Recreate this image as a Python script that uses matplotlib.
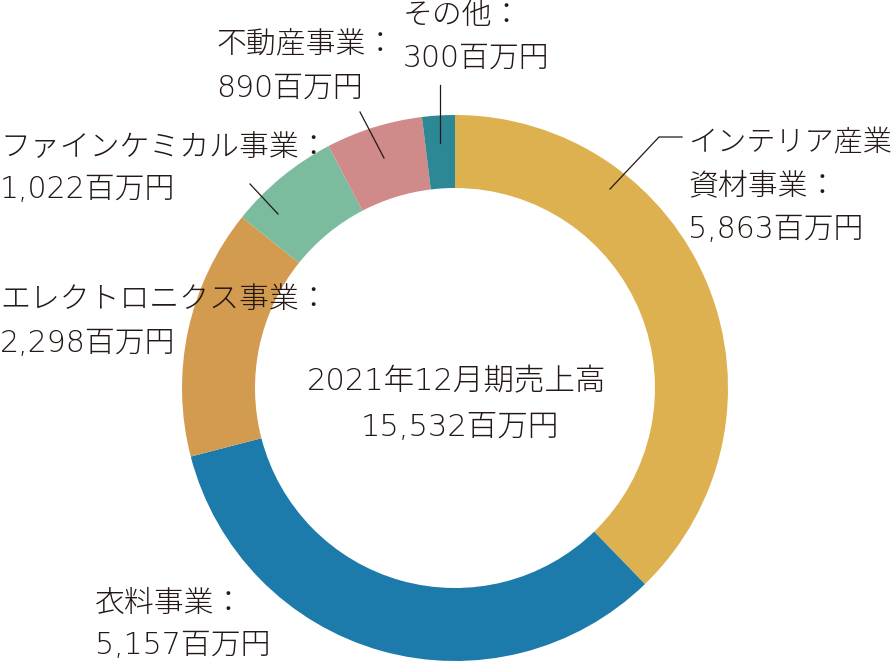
import matplotlib.pyplot as plt

plt.rcParams['font.family'] = ['DejaVu Sans', 'Noto Sans CJK JP']

# data (百万円)
segments = ['インテリア産業資材事業', '衣料事業', 'エレクトロニクス事業', 'ファインケミカル事業', '不動産事業', 'その他']
values = [5863, 5157, 2298, 1022, 890, 300]
colors = ['#DDB14F', '#1C7BAA', '#D39B4F', '#7BBB9E', '#D08A89', '#2C8895']
label_lines = [
    ['インテリア産業', '資材事業：', '5,863百万円'],
    ['衣料事業：', '5,157百万円'],
    ['エレクトロニクス事業：', '2,298百万円'],
    ['ファインケミカル事業：', '1,022百万円'],
    ['不動産事業：', '890百万円'],
    ['その他：', '300百万円'],
]
center_title = '2021年12月期売上高'
center_total = '15,532百万円'

W, H = 894, 662
fig = plt.figure(figsize=(W / 100, H / 100), dpi=100)
ax = fig.add_axes([0, 0, 1, 1])

cx, cy, R = 455, H - 388, 273
ax.pie(values, colors=colors, startangle=90, counterclock=False,
       radius=R, center=(cx, cy),
       wedgeprops=dict(width=73, linewidth=0))
ax.set_xlim(0, W)
ax.set_ylim(0, H)
ax.set_aspect('equal')
ax.axis('off')

txt = '#231815'
fs = 21.5
wt = 'light'

def put(x, y_top, lines, step=43):
    for i, s in enumerate(lines):
        # first line of the right label sits against the edge
        size = 21 if s == 'インテリア産業' else fs
        ax.text(x, H - (y_top + i * step), s, fontsize=size, color=txt,
                ha='left', va='center', fontweight=wt)

put(688, 143, label_lines[0])
put(95, 603, label_lines[1])
put(0, 300, label_lines[2])
put(0, 147, label_lines[3])
put(216, 45, label_lines[4])
put(403, 15, label_lines[5])

ax.text(457, H - 382, center_title, fontsize=22, color=txt, ha='center', va='center', fontweight=wt)
ax.text(460, H - 428, center_total, fontsize=22, color=txt, ha='center', va='center', fontweight=wt)

# leader lines
lw = 0.9
ax.plot([610, 659, 682], [H - 189, H - 137, H - 137], color=txt, lw=lw)
ax.plot([250, 278], [H - 184, H - 214], color=txt, lw=lw)
ax.plot([360, 384], [H - 112, H - 158], color=txt, lw=lw)
ax.plot([440, 440], [H - 85, H - 143], color=txt, lw=lw)

fig.savefig('out.png', dpi=100)
